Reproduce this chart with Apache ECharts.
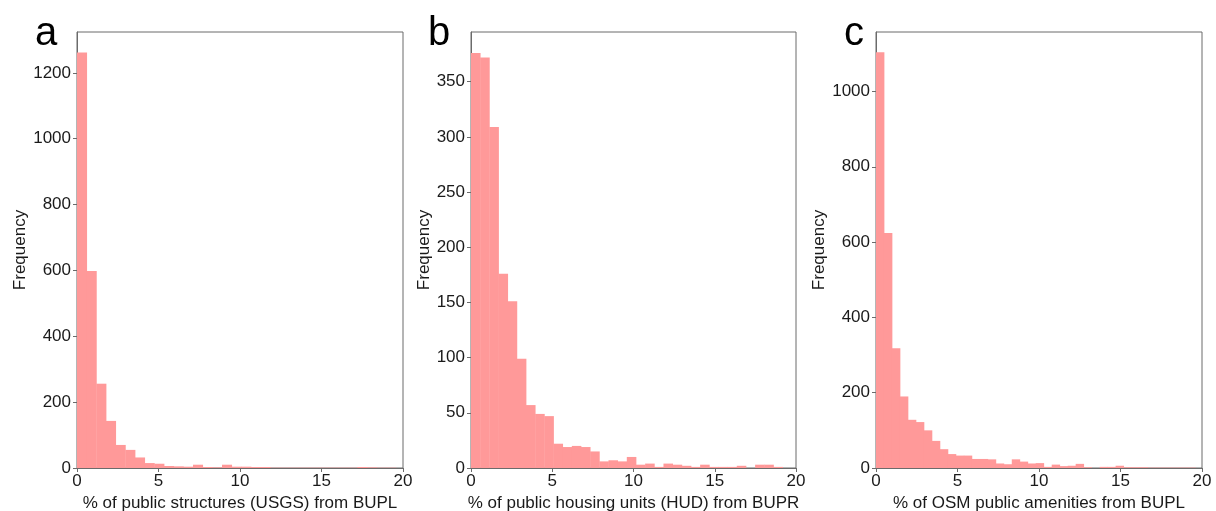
<!DOCTYPE html>
<html>
<head>
<meta charset="utf-8">
<script src="https://cdn.jsdelivr.net/npm/echarts@6/dist/echarts.min.js"></script>
<style>
html,body{margin:0;padding:0;background:#fff;}
#chart{width:1216px;height:511px;}
</style>
</head>
<body>
<div id="chart"></div>
<script>
// Histogram bin widths (in % units)
const binWidthA = 0.593;
const binWidthB = 0.564;
const binWidthC = 0.49;

// Frequencies per bin, starting at 0
const countsA = [1262, 598, 256, 143, 70, 55, 32, 15, 13, 6, 5, 4, 10, 3, 2, 10, 4, 4, 3, 3, 1, 1, 1, 1, 1, 1, 1, 1, 1, 3, 2, 1, 1, 0];
const countsB = [376, 372, 309, 176, 151, 99, 57, 49, 47, 22, 19, 20, 19, 15, 6, 7, 6, 10, 3, 4, 1, 4, 3, 2, 1, 3, 1, 1, 1, 2, 0, 3, 3, 1, 0];
const countsC = [1104, 624, 318, 190, 128, 122, 100, 72, 50, 37, 33, 33, 24, 24, 23, 12, 10, 23, 17, 12, 13, 3, 9, 5, 6, 11, 2, 0, 3, 3, 6, 2, 2, 2, 1, 1, 1, 1, 1, 1, 0];

// Axis settings
const xTicks = [0, 5, 10, 15, 20];
const yMaxA = 1324, yMaxB = 395, yMaxC = 1158;
const yIntervalA = 200, yIntervalB = 50, yIntervalC = 200;

const panelLetters = ['a', 'b', 'c'];
const xNames = [
  '% of public structures (USGS) from BUPL',
  '% of public housing units (HUD) from BUPR',
  '% of OSM public amenities from BUPL'
];
const yName = 'Frequency';

const barColor = '#ff9999';
const font = 'Liberation Sans, Arial, sans-serif';
const textColor = '#1a1a1a';
const axisColor = '#6b6b6b';

function toBins(counts, w) {
  return counts.map((c, i) => [i * w, (i + 1) * w, c]);
}

function renderHist(params, api) {
  const x0 = api.value(0), x1 = api.value(1), y = api.value(2);
  const p0 = api.coord([x0, y]);
  const p1 = api.coord([x1, 0]);
  return {
    type: 'rect',
    shape: { x: p0[0], y: p0[1], width: p1[0] - p0[0] + 0.4, height: p1[1] - p0[1] },
    style: { fill: barColor }
  };
}

const grids = [
  { left: 77, top: 32, width: 326, height: 436 },
  { left: 471, top: 32, width: 325, height: 436 },
  { left: 876, top: 32, width: 326, height: 436 }
];

const yMax = [yMaxA, yMaxB, yMaxC];
const yInt = [yIntervalA, yIntervalB, yIntervalC];
const yGap = [44, 36, 44];
const allBins = [toBins(countsA, binWidthA), toBins(countsB, binWidthB), toBins(countsC, binWidthC)];

const option = {
  backgroundColor: '#fff',
  animation: false,
  grid: grids.map(g => Object.assign({ show: true, borderColor: axisColor, borderWidth: 1, backgroundColor: 'transparent', containLabel: false, outerBoundsMode: 'none' }, g)),
  title: panelLetters.map((t, i) => ({
    text: t,
    left: [30, 423, 839][i],
    top: 9,
    padding: 5,
    textStyle: { fontFamily: font, fontSize: 40, fontWeight: 'normal', color: '#000' }
  })),
  xAxis: grids.map((g, i) => ({
    type: 'value',
    gridIndex: i,
    min: xTicks[0],
    max: xTicks[xTicks.length - 1],
    interval: xTicks[1] - xTicks[0],
    name: xNames[i],
    nameLocation: 'middle',
    nameGap: 24,
    nameTextStyle: { fontFamily: font, fontSize: 17, color: textColor },
    axisLine: { show: true, lineStyle: { color: axisColor, width: 1 } },
    axisTick: { show: true, length: 4, inside: false, lineStyle: { color: axisColor } },
    axisLabel: { fontFamily: font, fontSize: 17, color: textColor, margin: 5 },
    splitLine: { show: false }
  })),
  yAxis: grids.map((g, i) => ({
    type: 'value',
    gridIndex: i,
    min: 0,
    max: yMax[i],
    interval: yInt[i],
    name: yName,
    nameLocation: 'middle',
    nameGap: yGap[i],
    nameTextStyle: { fontFamily: font, fontSize: 17, color: textColor },
    axisLine: { show: true, lineStyle: { color: axisColor, width: 1 } },
    axisTick: { show: true, length: 4, inside: false, lineStyle: { color: axisColor } },
    axisLabel: { fontFamily: font, fontSize: 17, color: textColor, margin: 6, showMaxLabel: false, formatter: v => String(v) },
    splitLine: { show: false }
  })),
  series: allBins.map((bins, i) => ({
    type: 'custom',
    xAxisIndex: i,
    yAxisIndex: i,
    clip: true,
    renderItem: renderHist,
    encode: { x: [0, 1], y: 2 },
    data: bins
  }))
};

const chart = echarts.init(document.getElementById('chart'), null, { renderer: 'canvas' });
chart.setOption(option);
</script>
</body>
</html>
